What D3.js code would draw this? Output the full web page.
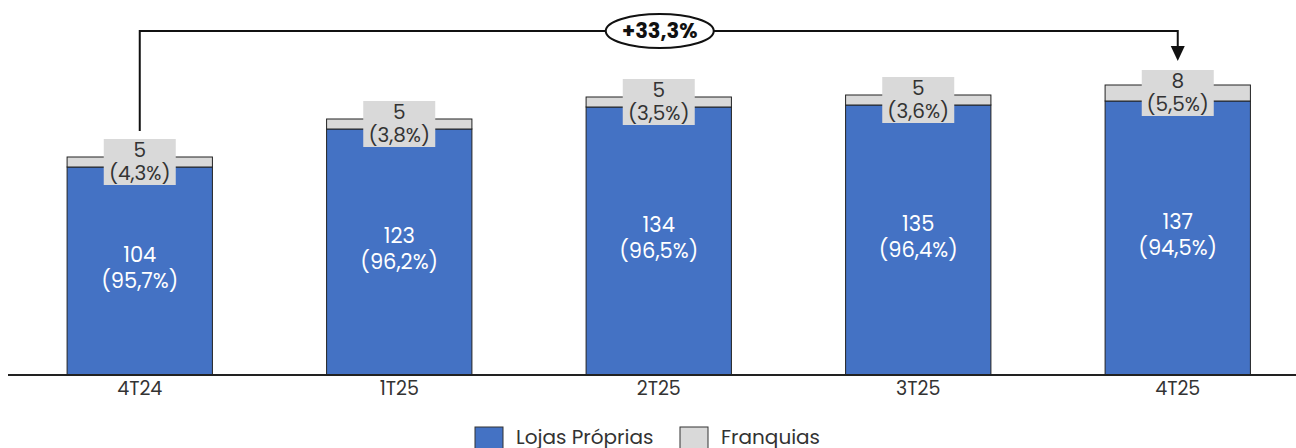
<!DOCTYPE html>
<html><head><meta charset="utf-8">
<script src="https://cdn.jsdelivr.net/npm/d3@7"></script>
<style>body{margin:0;background:#fff}svg{display:block}</style>
</head><body>
<script>
const categories = ["4T24","1T25","2T25","3T25","4T25"];
const lojasProprias = [104,123,134,135,137];
const lojasPct = ["95,7%","96,2%","96,5%","96,4%","94,5%"];
const franquias = [5,5,5,5,8];
const franqPct = ["4,3%","3,8%","3,5%","3,6%","5,5%"];
const seriesNames = ["Lojas Próprias","Franquias"];
const growthLabel = "+33,3%";

const W=1296,H=448;
const font="Poppins, Inter, 'Noto Sans', sans-serif";
const svg=d3.select("body").append("svg").attr("width",W).attr("height",H);
const x=d3.scaleBand().domain(categories).range([10,1307.5]).paddingInner(0.44).paddingOuter(0.22);
const y=d3.scaleLinear().domain([0,145]).range([375,85]);
const blue="#4472C4", gray="#D9D9D9";

const g=svg.append("g");
categories.forEach((c,i)=>{
  const x0=x(c), bw=x.bandwidth();
  g.append("rect").attr("x",x0).attr("y",y(lojasProprias[i])).attr("width",bw).attr("height",y(0)-y(lojasProprias[i]))
    .attr("fill",blue).attr("stroke","#222").attr("stroke-width",1);
  const tot=lojasProprias[i]+franquias[i];
  g.append("rect").attr("x",x0).attr("y",y(tot)).attr("width",bw).attr("height",y(lojasProprias[i])-y(tot))
    .attr("fill",gray).attr("stroke","#222").attr("stroke-width",1);
  const cx=x0+bw/2;
  const midB=(y(lojasProprias[i])+y(0))/2;
  g.append("text").attr("x",cx).attr("y",midB-9).attr("text-anchor","middle").attr("fill","#fff")
    .attr("font-family",font).attr("font-size",21).text(lojasProprias[i]);
  g.append("text").attr("x",cx).attr("y",midB+17).attr("text-anchor","middle").attr("fill","#fff")
    .attr("font-family",font).attr("font-size",21).text("("+lojasPct[i]+")");
  const midG=(y(tot)+y(lojasProprias[i]))/2;
  g.append("rect").attr("x",cx-36).attr("y",midG-23).attr("width",72).attr("height",46).attr("fill",gray);
  g.append("text").attr("x",cx).attr("y",midG-5).attr("text-anchor","middle").attr("fill","#333")
    .attr("font-family",font).attr("font-size",20).text(franquias[i]);
  g.append("text").attr("x",cx).attr("y",midG+18).attr("text-anchor","middle").attr("fill","#333")
    .attr("font-family",font).attr("font-size",20).text("("+franqPct[i]+")");
  // tick label
  g.append("text").attr("x",cx).attr("y",395).attr("text-anchor","middle").attr("fill","#333")
    .attr("font-family",font).attr("font-size",19).text(c);
});

svg.append("line").attr("x1",8).attr("x2",1296).attr("y1",375).attr("y2",375).attr("stroke","#222").attr("stroke-width",2);

const xa=x(categories[0])+x.bandwidth()/2, xb=x(categories[4])+x.bandwidth()/2, yt=31;
svg.append("path").attr("d",`M${xa},131 V${yt} H${xb} V47`).attr("fill","none").attr("stroke","#111").attr("stroke-width",2);
svg.append("path").attr("d",`M${xb-7},46 L${xb+7},46 L${xb},61 Z`).attr("fill","#111");
const ex=(xa+xb)/2+1;
svg.append("ellipse").attr("cx",ex).attr("cy",yt).attr("rx",54).attr("ry",17).attr("fill","#fff").attr("stroke","#111").attr("stroke-width",2);
svg.append("text").attr("x",ex).attr("y",yt+7).attr("text-anchor","middle").attr("font-family",font)
  .attr("font-weight","bold").attr("font-size",21).attr("fill","#111").text(growthLabel);

const lg=svg.append("g");
const colors=[blue,gray];
const lx=[475,680];
seriesNames.forEach((n,i)=>{
  lg.append("rect").attr("x",lx[i]).attr("y",427).attr("width",28).attr("height",26).attr("fill",colors[i]).attr("stroke","#333").attr("stroke-width",1);
  lg.append("text").attr("x",lx[i]+41).attr("y",444).attr("font-family",font).attr("font-size",20).attr("fill","#333").text(n);
});
</script>
</body></html>
